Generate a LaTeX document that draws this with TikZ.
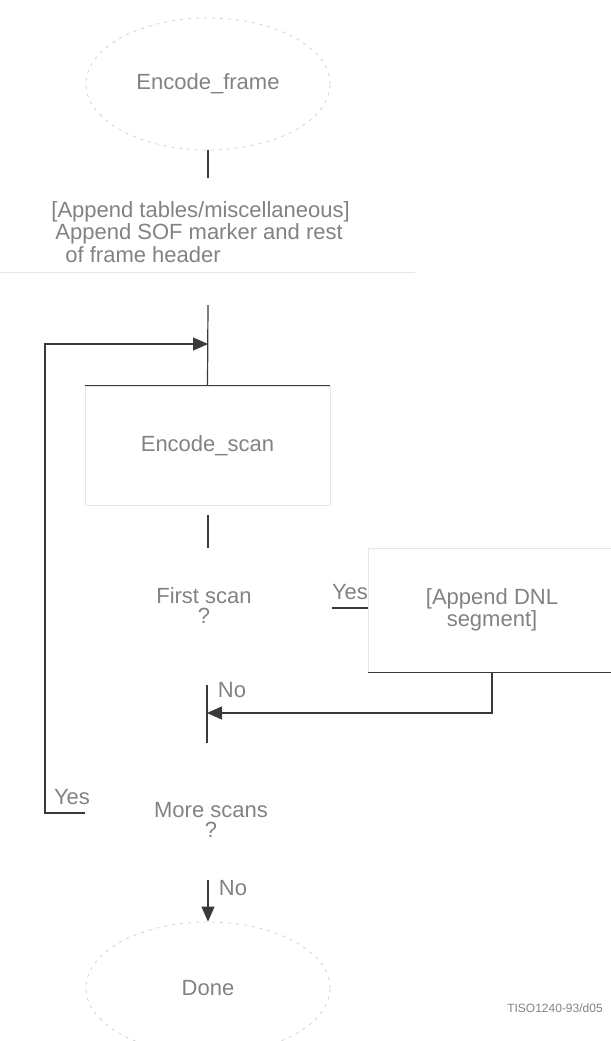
\documentclass[tikz,border=0pt]{standalone}
\usepackage{fontspec}
\setmainfont{Liberation Sans}
\usetikzlibrary{shapes.geometric,arrows.meta}
\definecolor{ink}{HTML}{3A3A3A}
\definecolor{grey}{HTML}{828282}
\definecolor{ghost}{HTML}{E6E6E6}
\definecolor{rim}{HTML}{D0D0D0}
\begin{document}
\begin{tikzpicture}[x=0.5pt,y=-0.5pt,
  txt/.style={text=grey,font=\fontsize{11}{10}\selectfont,inner sep=0pt},
  term/.style={ellipse,draw=rim,dash pattern=on 1.5pt off 2.5pt,minimum width=122pt,minimum height=66pt,txt},
  box/.style={rectangle,draw=ghost,txt},
  wire/.style={draw=ink,line width=0.6pt},
  tip/.style={wire,-{Triangle[length=7.5pt,width=6.5pt]}}]
\useasboundingbox (0,0) rectangle (611,1041);
% start of frame
\node[term] (frame) at (208,84) {Encode\_frame};
\coordinate (f1) at (208,178);
\draw[wire] (frame.south) -- (f1);
\node[txt,anchor=west,align=left] (hdr) at (51,232) {[Append tables/miscellaneous]\\\hspace{2pt}Append SOF marker and rest\\\hspace{7pt}of frame header};
\draw[ghost] (0,272) -- (415,272);
% scan loop
\node[box,minimum width=122.5pt,minimum height=59.5pt] (scan) at (207.5,445.5) {Encode\_scan};
\draw[wire] (scan.north west) -- (scan.north east);
\coordinate (h1) at (208,305);
\coordinate (j1) at (208,344);
\draw[wire] (h1) -- (scan.north);
\coordinate (s1) at (208,515);
\coordinate (s2) at (208,548);
\draw[wire] (s1) -- (s2);
\node[txt,align=center] (first) at (204,606) {First scan\\?};
\node[txt] (yes1) at (350,592) {Yes};
\node[box,minimum width=124pt,minimum height=62pt,align=center] (dnl) at (492,610) {[Append DNL\\segment]};
\draw[wire] (dnl.south west) -- (dnl.south east);
\coordinate (y1) at (332,608);
\draw[wire] (y1) -- (y1 -| dnl.west);
\coordinate (m0) at (207,685);
\coordinate (m1) at (207,713);
\coordinate (m2) at (207,743);
\draw[wire] (m0) -- (m2);
\draw[tip] (dnl.south) |- (m1);
\node[txt] (no1) at (232,690) {No};
\node[txt,align=center] (more) at (211,820) {More scans\\?};
\node[txt] (yes2) at (72,797) {Yes};
\coordinate (l1) at (85,813);
\coordinate (l0) at (45,813);
\draw[tip] (l1) -- (l0) |- (j1);
% end
\node[term] (done) at (208,988) {Done};
\coordinate (a0) at (208,880);
\draw[tip] (a0) -- (done.north);
\node[txt] (no2) at (233,888) {No};
\node[txt,font=\fontsize{6}{6}\selectfont] (tag) at (555,1008) {TISO1240-93/d05};
\end{tikzpicture}
\end{document}
